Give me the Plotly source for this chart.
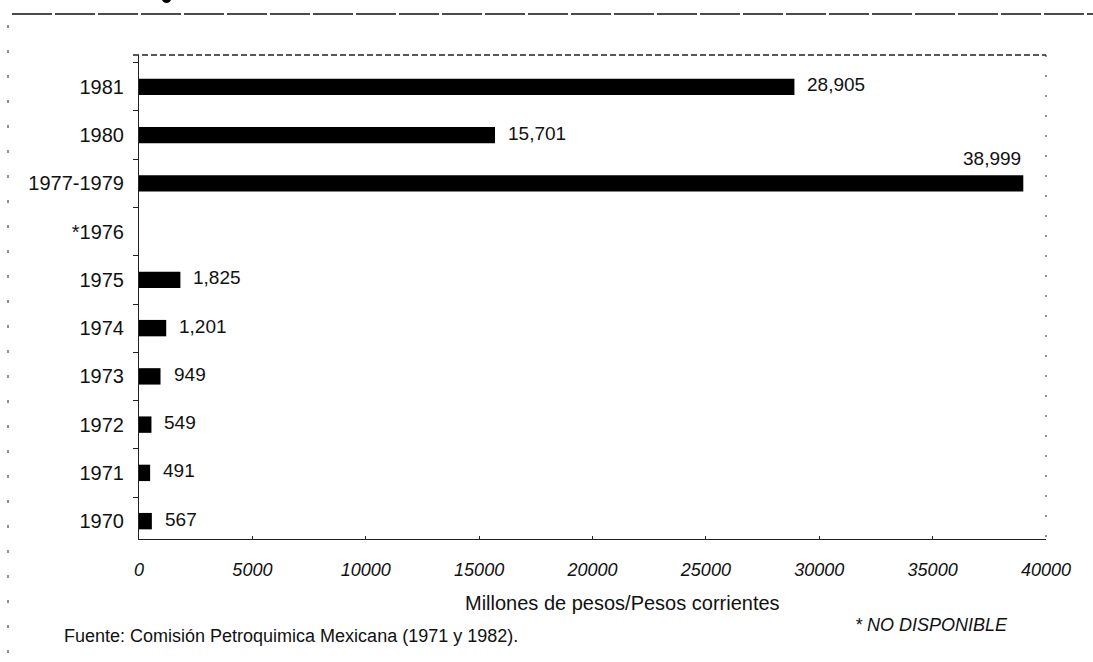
import plotly.graph_objects as go

# Inversión en la industria petroquímica, millones de pesos corrientes
periodos = ["1970", "1971", "1972", "1973", "1974", "1975", "*1976", "1977-1979", "1980", "1981"]
inversion = [567, 491, 549, 949, 1201, 1825, None, 38999, 15701, 28905]

x_ticks = [0, 5000, 10000, 15000, 20000, 25000, 30000, 35000, 40000]

W, H = 1093, 662
L, R, T, B = 139, 1046, 55, 539  # plot area in pixels


def px(xp):
    return (xp - L) / (R - L)


def py(yp):
    return (B - yp) / (B - T)


FONT = "Liberation Sans, Arial, sans-serif"
INK = "#111111"

fig = go.Figure()
fig.add_trace(go.Bar(
    y=periodos,
    x=inversion,
    orientation="h",
    width=0.34,
    marker=dict(color="#000000", line=dict(width=0)),
    hoverinfo="x+y",
))

annotations = []
for i, (p, v) in enumerate(zip(periodos, inversion)):
    if v is None:
        continue
    label = f"{v:,}"
    # category labels look numeric, so place value labels by category index
    if v > 35000:
        # long bar: value sits above the right end of the bar
        annotations.append(dict(x=v, y=i, xref="x", yref="y", text=label,
                                showarrow=False, xanchor="right", yanchor="middle",
                                yshift=25, font=dict(size=19, color=INK, family=FONT)))
    else:
        annotations.append(dict(x=v, y=i, xref="x", yref="y", text=label,
                                showarrow=False, xanchor="left", yanchor="middle",
                                xshift=11, yshift=2, font=dict(size=19, color=INK, family=FONT)))

annotations += [
    dict(x=px(622), y=py(603), xref="paper", yref="paper",
         text="Millones de pesos/Pesos corrientes", showarrow=False,
         xanchor="center", yanchor="middle", font=dict(size=20, color=INK, family=FONT)),
    dict(x=px(62), y=py(636), xref="paper", yref="paper",
         text="Fuente: Comisión Petroquimica Mexicana (1971 y 1982).", showarrow=False,
         xanchor="left", yanchor="middle", font=dict(size=18, color=INK, family=FONT)),
    dict(x=px(853), y=py(625), xref="paper", yref="paper",
         text="* NO DISPONIBLE", showarrow=False,
         xanchor="left", yanchor="middle",
         font=dict(size=18, color=INK, family=FONT, style="italic")),
]

dash = "6px,3px"
shapes = [
    # frame of the chart area
    dict(type="line", xref="paper", yref="paper", x0=px(133), x1=px(1046), y0=py(55), y1=py(55),
         line=dict(color="#222", width=1.3, dash=dash)),
    dict(type="line", xref="paper", yref="paper", x0=px(1046), x1=px(1046), y0=py(55), y1=py(539),
         line=dict(color="#222", width=1, dash="2px,18px")),
    # page rule at the top and dashed margin on the left
    dict(type="line", xref="paper", yref="paper", x0=px(12), x1=px(1093), y0=py(14), y1=py(14),
         line=dict(color="#111", width=1.5, dash="40px,3px")),
    dict(type="line", xref="paper", yref="paper", x0=px(8), x1=px(8), y0=py(25), y1=py(662),
         line=dict(color="#222", width=1, dash="3px,22px")),
    # remnant of the heading cut at the top edge
    dict(type="circle", xref="paper", yref="paper", x0=px(162), x1=px(171), y0=py(-5), y1=py(3),
         fillcolor="#000", line=dict(width=0)),
]

fig.update_layout(
    width=W, height=H,
    margin=dict(l=L, r=W - R, t=T, b=H - B),
    paper_bgcolor="white", plot_bgcolor="white",
    showlegend=False,
    bargap=0.66,
    font=dict(family=FONT, color=INK),
    annotations=annotations,
    shapes=shapes,
)

fig.update_xaxes(
    range=[0, 40000],
    tickvals=x_ticks,
    ticktext=[str(t) for t in x_ticks],
    tickfont=dict(size=18, color=INK, family=FONT, style="italic"),
    ticks="inside", ticklen=3, tickcolor="#222",
    ticklabelstandoff=14,
    showgrid=False, zeroline=False,
    showline=True, linecolor="#222", linewidth=1,
)

fig.update_yaxes(
    type="category",
    categoryorder="array", categoryarray=periodos,
    range=[-0.37, 9.66],
    tickfont=dict(size=20, color=INK, family=FONT),
    ticks="outside", ticklen=5, tickcolor="#222", tickson="boundaries",
    ticklabelstandoff=10,
    showgrid=False, zeroline=False,
    showline=True, linecolor="#222", linewidth=1,
)

fig.write_html("out.html")
